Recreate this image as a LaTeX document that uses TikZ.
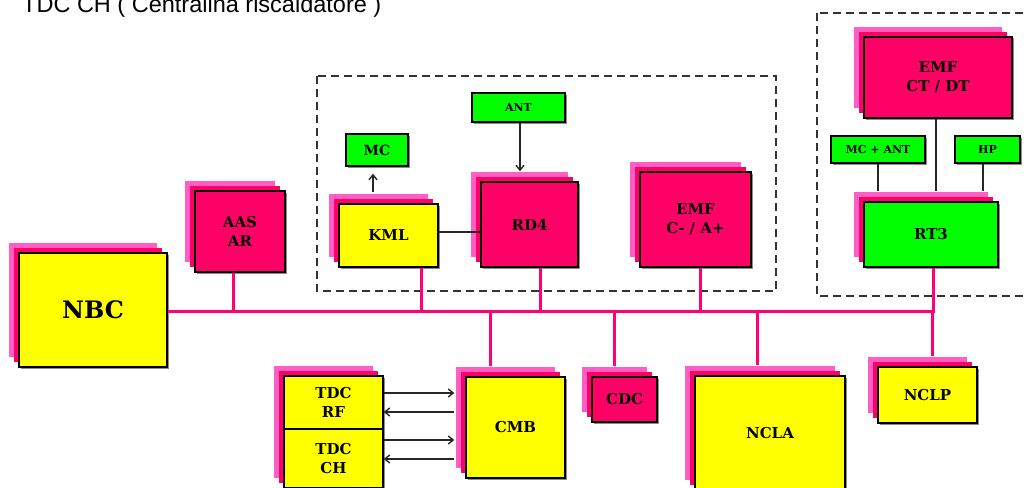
\documentclass[tikz,border=0pt]{standalone}
\usepackage{fontspec}
\setmainfont{DejaVu Serif}
\setsansfont{Liberation Sans}
\usetikzlibrary{shadows,arrows.meta}
\definecolor{bpink}{HTML}{FF0066}
\definecolor{shlight}{HTML}{FF5FC4}
\definecolor{byellow}{HTML}{FFFF00}
\definecolor{bgreen}{HTML}{00FF00}
\definecolor{buscol}{HTML}{FF0077}
\newcommand{\bx}[7]{%
  \pgfmathsetmacro\bxw{#5-#3}\pgfmathsetmacro\bxh{#6-#4}%
  \node[#1, minimum width=\bxw pt, minimum height=\bxh pt] (#2) at ({(#3+#5)/2},{(#4+#6)/2}) {#7};}
\tikzset{
  gsh/.style={general shadow={fill=black!45, shadow xshift=1.5pt, shadow yshift=-1.5pt}},
  pinksh/.style={general shadow={fill=shlight, shadow xshift=-10pt, shadow yshift=10pt},
                 general shadow={fill=bpink, shadow xshift=-5pt, shadow yshift=5pt}},
  plainbox/.style={draw=black, line width=1.3pt, inner sep=0pt, align=center,
                   font=\bfseries\fontsize{15}{19}\selectfont},
  box/.style={plainbox, pinksh, gsh},
  small/.style={plainbox, gsh, fill=bgreen, font=\bfseries\fontsize{11}{13}\selectfont},
  bus/.style={buscol, line width=3pt},
  conn/.style={black!85, line width=1.4pt},
  arr/.style={conn, -{Straight Barb[length=5pt,width=8pt]}},
  dashbox/.style={draw=black!80, line width=2.5pt, dash pattern=on 8pt off 5pt}
}
\begin{document}
\begin{tikzpicture}[x=1pt,y=-1pt]
\useasboundingbox (0,0) rectangle (1027,487);
\clip (0,0) rectangle (1027,487);
\fill[white] (0,0) rectangle (1027,487);

\node[anchor=base west, inner sep=0pt, font=\sffamily\fontsize{23.5}{24}\selectfont] (title) at (22,12.7) {TDC CH ( Centralina riscaldatore )};

% dashed groups
\draw[dashbox] (317,76) rectangle (776,291);
\draw[dashbox] (817,13) rectangle (1040,296);

% boxes
\bx{box,fill=byellow,font=\bfseries\fontsize{24}{28}\selectfont}{nbc}{19}{253}{167}{367}{NBC}
\bx{box,fill=bpink}{aas}{195}{191}{285}{272}{AAS\\AR}
\bx{small,font=\bfseries\fontsize{14}{16}\selectfont}{mc}{346}{134}{408}{166}{MC}
\bx{small}{ant}{472}{93}{565}{122}{ANT}
\bx{box,fill=byellow}{kml}{339}{204}{438}{267}{KML}
\bx{box,fill=bpink}{rd4}{481}{182}{578}{267}{RD4}
\bx{box,fill=bpink}{emfa}{640}{172}{751}{267}{EMF\\C- / A+}
\bx{box,fill=bpink}{emfb}{864}{37}{1012}{118}{EMF\\CT / DT}
\bx{small}{mcant}{831}{136}{925}{163}{MC + ANT}
\bx{small}{hp}{955}{136}{1020}{163}{HP}
\bx{box,fill=bgreen}{rt3}{864}{202}{998}{267}{RT3}
\bx{box,fill=byellow}{nclp}{878}{367}{977}{423}{NCLP}
\bx{box,fill=byellow}{cmb}{466}{377}{565}{478}{CMB}
\bx{box,fill=byellow}{tdc}{284}{376}{383}{488}{}
\bx{plainbox,fill=byellow}{tdcrf}{284}{376}{383}{429}{TDC\\RF}
\bx{plainbox,fill=byellow}{tdcch}{284}{429}{383}{488}{TDC\\CH}
\bx{box,fill=bpink}{cdc}{592}{377}{657}{422}{CDC}
\bx{box,fill=byellow}{ncla}{695}{376}{845}{490}{NCLA}

% bus
\coordinate (busR) at (935,311);
\draw[bus] (nbc.east |- busR) -- (busR);
\draw[bus] ([xshift=-7pt]aas.south) -- ([xshift=-7pt]aas.south |- busR);
\draw[bus] ([xshift=32.5pt]kml.south) -- ([xshift=32.5pt]kml.south |- busR);
\draw[bus] ([xshift=10.5pt]rd4.south) -- ([xshift=10.5pt]rd4.south |- busR);
\draw[bus] ([xshift=4.5pt]emfa.south) -- ([xshift=4.5pt]emfa.south |- busR);
\draw[bus] ([xshift=2pt]rt3.south) -- ([xshift=2pt]rt3.south |- busR);
\draw[bus] ([xshift=-25.5pt,yshift=10pt]cmb.north) -- ([xshift=-25.5pt]cmb.north |- busR);
\draw[bus] ([xshift=-10.5pt,yshift=10pt]cdc.north) -- ([xshift=-10.5pt]cdc.north |- busR);
\draw[bus] ([xshift=-13pt,yshift=10pt]ncla.north) -- ([xshift=-13pt]ncla.north |- busR);
\draw[bus] ([xshift=4.5pt,yshift=10pt]nclp.north) -- ([xshift=4.5pt]nclp.north |- busR);

% black connectors
\draw[conn] ([yshift=3.5pt]kml.east) -- ([yshift=3.5pt]kml.east -| rd4.west);
\draw[arr, shorten >=10pt] ([xshift=1.5pt]ant.south) -- ([xshift=1.5pt]ant.south |- rd4.north);
\draw[arr, shorten <=11pt, shorten >=7pt] ([xshift=-4pt]mc.south |- kml.north) -- ([xshift=-4pt]mc.south);
\draw[conn, shorten >=10pt] (mcant.south) -- (mcant.south |- rt3.north);
\draw[conn, shorten >=10pt] ([xshift=-2pt]emfb.south) -- ([xshift=-2pt]emfb.south |- rt3.north);
\draw[conn, shorten >=10pt] ([xshift=-4.5pt]hp.south) -- ([xshift=-4.5pt]hp.south |- rt3.north);

\draw[arr, shorten >=11pt] ([yshift=9.5pt]tdcrf.east) -- ([yshift=9.5pt]tdcrf.east -| cmb.west);
\draw[arr, shorten <=11pt] ([yshift=-9.5pt]tdcrf.east -| cmb.west) -- ([yshift=-9.5pt]tdcrf.east);
\draw[arr, shorten >=11pt] ([yshift=18.5pt]tdcch.east) -- ([yshift=18.5pt]tdcch.east -| cmb.west);
\draw[arr, shorten <=11pt] ([yshift=-0.5pt]tdcch.east -| cmb.west) -- ([yshift=-0.5pt]tdcch.east);
\end{tikzpicture}
\end{document}
